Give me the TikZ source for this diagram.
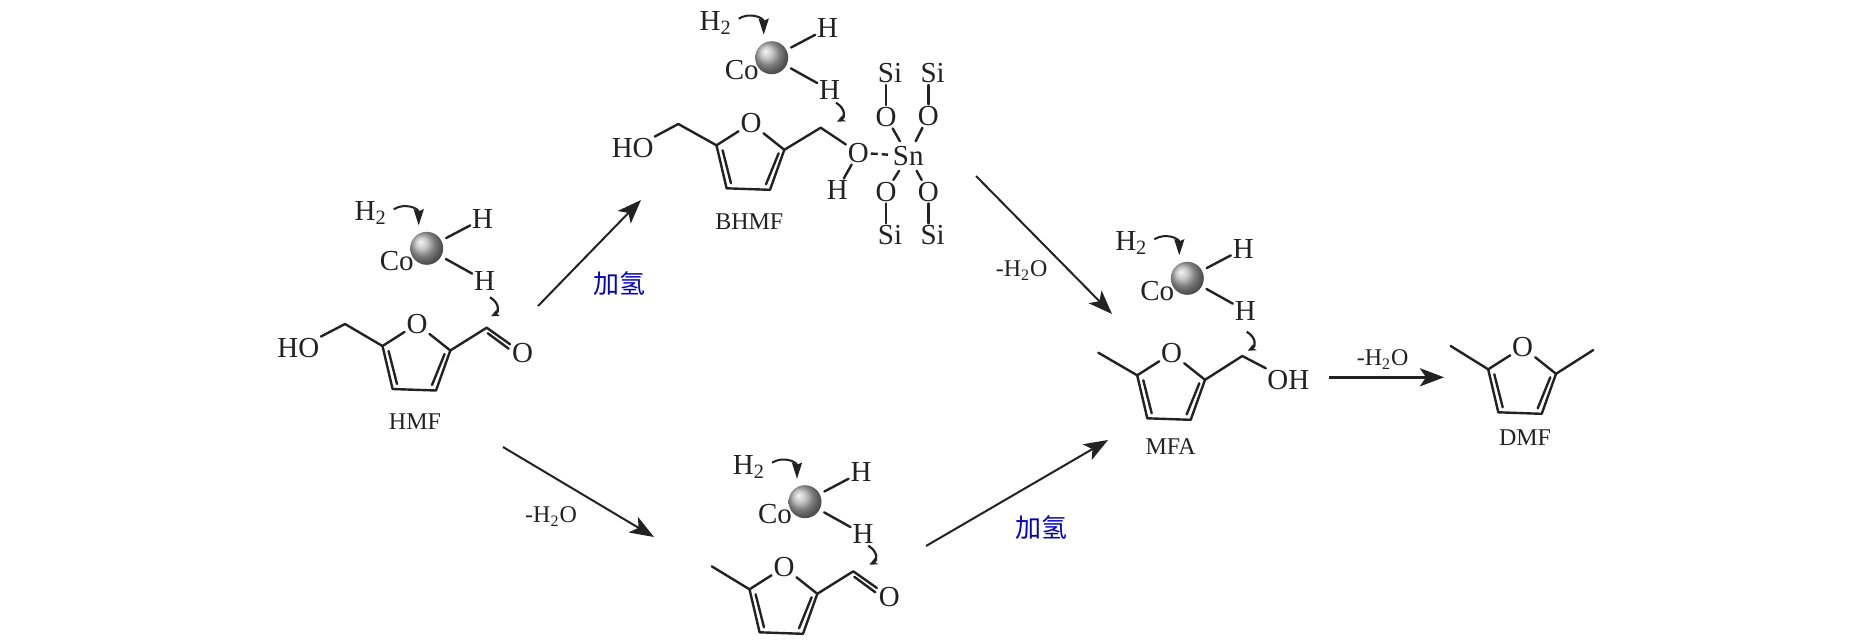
\documentclass[tikz,border=0pt]{standalone}
\usepackage{fontspec}
\setmainfont{Liberation Serif}
\newfontfamily\cjk{Noto Sans CJK SC}
\usetikzlibrary{calc,arrows.meta}
\definecolor{ink}{HTML}{222222}
\tikzset{
	atom/.style={inner sep=.5pt,outer sep=.5pt,text=ink,font=\fontsize{14.5}{14.5}\selectfont},
	tag/.style={inner sep=0pt,text=ink,font=\fontsize{12}{12}\selectfont},
	hyd/.style={inner sep=0pt,text=blue!75!black,font=\cjk\fontsize{13}{13}\selectfont},
	bond/.style={ink,line width=1.2pt,line cap=round,line join=round},
	route/.style={ink,line width=1pt,-{Stealth[length=12pt,width=9pt,inset=3pt]}},
	push/.style={ink,line width=1pt,-{Stealth[length=8pt,width=5pt,inset=1pt]}},
	hook/.style={ink,line width=1.1pt,-{Stealth[length=4pt,width=3.5pt,inset=1pt]}},
	cobalt/.style={circle,inner sep=0pt,minimum size=16.5pt,shading=ball,ball color=gray!60},
}
% ring: O at #2, carbons l r c d
\newcommand\furan[2]{
	\node[atom] (#1o) at (#2) {O};
	\coordinate (#1l) at ($(#1o)+(-34.5,22)$);
	\coordinate (#1r) at ($(#1o)+(33.3,26.5)$);
	\coordinate (#1c) at ($(#1o)+(19,66.5)$);
	\coordinate (#1d) at ($(#1o)+(-24.4,65)$);
	\draw[bond] (#1o)--(#1r)--(#1c)--(#1d)--(#1l)--(#1o);
	\coordinate (#1m) at ($(#1o)+(-28.4,27)$);
	\coordinate (#1n) at ($(#1o)+(-20,60)$);
	\coordinate (#1p) at ($(#1o)+(27.6,30)$);
	\coordinate (#1q) at ($(#1o)+(15,61)$);
	\draw[bond] (#1m)--(#1n) (#1p)--(#1q);
}
% metal site at #2, hydride hook from #3 downwards
\newcommand\cosite[3]{
	\node[cobalt] (#1ball) at (#2) {};
	\node[atom] (#1co) at ($(#1ball)+(-30,12.5)$) {Co};
	\node[atom] (#1two) at ($(#1ball)+(-56,-35)$) {H\textsubscript{2}};
	\node[atom] (#1hu) at ($(#1ball)+(56,-29.5)$) {H};
	\node[atom] (#1hl) at ($(#1ball)+(58,32.3)$) {H};
	\draw[bond,shorten <=2.5pt] (#1ball)--(#1hu);
	\draw[bond,shorten <=2.5pt] (#1ball)--(#1hl);
	\coordinate (#1a) at ($(#1ball)+(-33,-39)$);
	\coordinate (#1b) at ($(#1ball)+(-8,-23)$);
	\draw[push] (#1a) .. controls ($(#1a)+(11,-7)$) and ($(#1b)+(0,-17)$) .. (#1b);
	\coordinate (#1s) at (#3);
	\coordinate (#1t) at ($(#1s)+(1,19)$);
	\draw[hook] (#1s) .. controls ($(#1s)+(10,6)$) and ($(#1t)+(8,-4)$) .. (#1t);
}
% aldehyde carbon at #3 on ring carbon #2
\newcommand\formyl[3]{
	\coordinate (#1cho) at (#3);
	\node[atom] (#1oxo) at ($(#1cho)+(36,25.5)$) {O};
	\draw[bond] (#2)--(#1cho)--(#1oxo);
	\coordinate (#1e) at ($(#1cho)+(1,5.5)$);
	\coordinate (#1f) at ($(#1cho)+(22,21)$);
	\draw[bond] (#1e)--(#1f);
}
\begin{document}
\begin{tikzpicture}[x=.5pt,y=-.5pt]
	\useasboundingbox (0,0) rectangle (1869,639);
	% HMF
	\furan{hmf}{417,324}
	\cosite{hmf}{426.7,248.3}{490,297.3}
	\node[atom] (hmfho) at (298.3,348.3) {HO};
	\coordinate (hmfch) at (345,324);
	\draw[bond] (hmfho)--(hmfch)--(hmfl);
	\formyl{hmf}{hmfr}{486.7,327.7}
	\node[tag] (hmftag) at (415,421.7) {HMF};
	% BHMF
	\furan{bh}{751,123.3}
	\cosite{bh}{771.7,57.7}{836,102.7}
	\node[atom] (bhho) at (632.7,148.3) {HO};
	\coordinate (bhch) at (678.3,124);
	\draw[bond] (bhho)--(bhch)--(bhl);
	\coordinate (bhcr) at (820.7,127.7);
	\node[atom] (bhox) at (858.3,152.7) {O};
	\node[atom] (bhoh) at (837.3,190) {H};
	\node[atom,outer sep=2pt] (sn) at (908.3,156) {Sn};
	\draw[bond] (bhr)--(bhcr)--(bhox);
	\draw[bond] (bhox)--(bhoh);
	\draw[bond,line cap=butt,dash pattern=on 3.5pt off 2pt] (bhox)--(sn);
	\foreach \n/\ox/\oy/\sx/\sy/\an in {a/886/116.7/890/73.3/south,b/928.3/116/932.7/73.3/south,c/886/191.7/890/235/north,d/928.3/191.7/932.7/235/north}{
		\node[atom] (o\n) at (\ox,\oy) {O};
		\node[atom] (si\n) at (\sx,\sy) {Si};
		\draw[bond] (o\n)--(o\n |- si\n.\an);
		\draw[bond] (o\n)--(sn);
	}
	\node[tag] (bhtag) at (749.3,221.7) {BHMF};
	% methylfurfural
	\furan{mf}{784,567.3}
	\cosite{mf}{805,501.7}{868.3,545.7}
	\coordinate (mfme) at (711.7,566.3);
	\draw[bond] (mfme)--(mfl);
	\formyl{mf}{mfr}{853.3,571.3}
	% MFA
	\furan{mfa}{1171.7,353.3}
	\cosite{mfa}{1187.3,278.3}{1246.7,331.7}
	\coordinate (mfame) at (1098.3,352.7);
	\coordinate (mfach) at (1242.3,356);
	\node[atom] (mfaoh) at (1288.3,380) {OH};
	\draw[bond] (mfame)--(mfal);
	\draw[bond] (mfar)--(mfach)--(mfaoh);
	\node[tag] (mfatag) at (1170.7,446.7) {MFA};
	% DMF
	\furan{dmf}{1522.7,347.3}
	\coordinate (dmfma) at (1450.7,346);
	\coordinate (dmfmb) at (1593.3,350);
	\draw[bond] (dmfma)--(dmfl);
	\draw[bond] (dmfmb)--(dmfr);
	\node[tag] (dmftag) at (1525,437.3) {DMF};
	% routes
	\coordinate (ra) at (538,306); \coordinate (rb) at (641,200);
	\coordinate (rc) at (976,176); \coordinate (rd) at (1112,314);
	\coordinate (re) at (503,447); \coordinate (rf) at (654,537);
	\coordinate (rg) at (926,546); \coordinate (rh) at (1108,440);
	\coordinate (ri) at (1329,377.3); \coordinate (rj) at (1444,377.3);
	\draw[route] (ra)--(rb);
	\draw[route] (rc)--(rd);
	\draw[route] (re)--(rf);
	\draw[route] (rg)--(rh);
	\draw[route,line width=1.6pt] (ri)--(rj);
	\node[hyd] (hyda) at (619,284) {加氢};
	\node[hyd] (hydb) at (1041,528) {加氢};
	\node[tag] (loss) at (1021.7,270.7) {-H\textsubscript{2}O};
	\node[tag] (lossb) at (551,516.5) {-H\textsubscript{2}O};
	\node[tag] (lossc) at (1382.7,359.3) {-H\textsubscript{2}O};
\end{tikzpicture}
\end{document}
